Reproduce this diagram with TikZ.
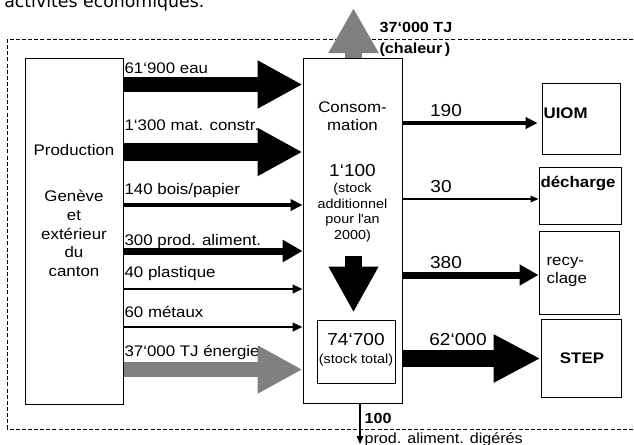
\documentclass[tikz,border=0pt]{standalone}
\usepackage{fontspec}
\setmainfont[FakeStretch=1.1]{Liberation Sans}
\newfontfamily\pagefont{DejaVu Sans}
\usetikzlibrary{arrows.meta}
\definecolor{heatgray}{RGB}{128,128,128}
\begin{document}
\begin{tikzpicture}[x=0.75pt, y=-0.75pt,
  box/.style={draw, line width=0.75pt, inner sep=0pt},
  lab/.style={font=\fontsize{11.5}{13.5}\selectfont, inner sep=1pt},
  num/.style={font=\fontsize{13}{15}\selectfont, inner sep=1pt},
  small/.style={font=\fontsize{9.8}{11.8}\selectfont, align=center, inner sep=0pt},
  dest/.style={font=\bfseries\fontsize{11.5}{13.5}\selectfont, inner sep=1pt},
  big/.style={line width=11.25pt, -{Triangle[length=33.75pt, width=33.75pt]}},
  mid/.style={line width=5.25pt, -{Triangle[length=15pt, width=16pt]}},
  thin/.style={line width=2.6pt, -{Triangle[length=9pt, width=8.5pt]}},
  fine/.style={line width=1.7pt, -{Triangle[length=7.5pt, width=6.5pt]}},
  hair/.style={line width=0.8pt, -{Triangle[length=6pt, width=5pt]}}
]
\useasboundingbox (0,0) rectangle (634,444);
\node[font=\pagefont\fontsize{13}{15}\selectfont, anchor=base west, inner sep=0pt] (page) at (4,7) {activités économiques.};
\draw[dash pattern=on 3pt off 1.6pt, line width=0.6pt] (7,39) rectangle (660,429);

\node[box, minimum width=73.5pt, minimum height=259.5pt] (prod) at (74,231) {};
\node[box, minimum width=74.25pt, minimum height=258.75pt] (cons) at (352.5,230.5) {};
\node[box, minimum width=58.5pt, minimum height=47.25pt] (stock) at (356,351.5) {};
\node[box, minimum width=58.5pt, minimum height=53.25pt] (uiom) at (581,118.5) {};
\node[box, minimum width=61.5pt, minimum height=42.75pt] (dech) at (580,195.5) {};
\node[box, minimum width=60pt, minimum height=62.25pt] (recy) at (579,272.5) {};
\node[box, minimum width=60pt, minimum height=58.5pt] (step) at (581,358) {};

\node[lab] (prodT) at (74,150) {Production};
\node[lab, align=center, font=\fontsize{11.5}{14}\selectfont] (prodW) at (74,233.5) {Genève\\et\\extérieur\\du\\canton};
\node[lab, align=center] (consT) at (352.5,116) {Consom-\\mation};
\node[num] (addN) at (352.5,171) {1‘100};
\node[small] (addT) at (352.5,212.5) {(stock\\additionnel\\pour l\textquotesingle an\\2000)};
\node[num] (totN) at (356,340) {74‘700};
\node[small] (totT) at (356,360) {(stock total)};

\node[lab, anchor=west] (eauT) at (123,68) {61‘900 eau};
\node[lab, anchor=west] (matT) at (123,125) {1‘300 mat. constr.};
\node[lab, anchor=west] (boisT) at (123,191) {140 bois/papier};
\node[lab, anchor=west] (alimT) at (123,242) {300 prod. aliment.};
\node[lab, anchor=west] (plastT) at (123,274) {40 plastique};
\node[lab, anchor=west] (metalT) at (123,312) {60 métaux};
\node[lab, anchor=west] (nrjT) at (123,352) {37‘000 TJ énergie};

\node[num] (uiomN) at (446,111) {190};
\node[num] (dechN) at (441,187) {30};
\node[num] (recyN) at (446,263) {380};
\node[num] (stepN) at (458,340) {62‘000};

\node[dest, anchor=west] (uiomT) at (542,113) {UIOM};
\node[dest] (dechT) at (578,183) {décharge};
\node[lab, align=left, anchor=west] (recyT) at (545,272) {recy-\\clage};
\node[dest] (stepT) at (582,358) {STEP};

\node[lab, font=\bfseries\fontsize{11}{15.75}\selectfont, align=left, anchor=west] (heatT) at (378,39.5) {37‘000 TJ\\(chaleur\,)};
\node[lab, font=\bfseries\fontsize{11}{13}\selectfont, anchor=west] (digN) at (363,418) {100};
\node[lab, font=\fontsize{11}{13}\selectfont, anchor=west] (digT) at (363,440) {prod. aliment. digérés};

\coordinate (eau) at (0,84.5);
\coordinate (mat) at (0,152);
\coordinate (bois) at (0,205);
\coordinate (alim) at (0,251);
\coordinate (plast) at (0,289);
\coordinate (metal) at (0,327);
\coordinate (nrj) at (0,369.5);
\coordinate (toUiom) at (0,123);
\coordinate (toDech) at (0,199);
\coordinate (toRecy) at (0,275);
\coordinate (toStep) at (0,358.5);
\coordinate (heat) at (353.5,8);
\coordinate (drop) at (353.5,256);
\coordinate (digest) at (360,444);

\draw[big] (prod.east |- eau) -- (cons.west |- eau);
\draw[big, line width=13.5pt] (prod.east |- mat) -- (cons.west |- mat);
\draw[thin] (prod.east |- bois) -- (cons.west |- bois);
\draw[mid] (prod.east |- alim) -- (cons.west |- alim);
\draw[fine] (prod.east |- plast) -- (cons.west |- plast);
\draw[fine] (prod.east |- metal) -- (cons.west |- metal);
\draw[big, heatgray] (prod.east |- nrj) -- (cons.west |- nrj);

\draw[thin] (cons.east |- toUiom) -- ([xshift=-3pt]uiom.west |- toUiom);
\draw[hair] (cons.east |- toDech) -- (dech.west |- toDech);
\draw[mid, -{Triangle[length=14.25pt, width=15pt]}] (cons.east |- toRecy) -- (recy.west |- toRecy);
\draw[big, line width=12.75pt, -{Triangle[length=35.25pt, width=33.75pt]}] (cons.east |- toStep) -- (step.west |- toStep);

\draw[big, heatgray, line width=12.75pt, -{Triangle[length=33.75pt, width=35.25pt]}] (cons.north -| heat) -- (heat);
\draw[big, line width=12.75pt, -{Triangle[length=34.5pt, width=35pt]}, shorten >=5.25pt] (drop) -- (stock.north -| drop);
\draw[hair] (cons.south -| digest) -- (digest);
\end{tikzpicture}
\end{document}
